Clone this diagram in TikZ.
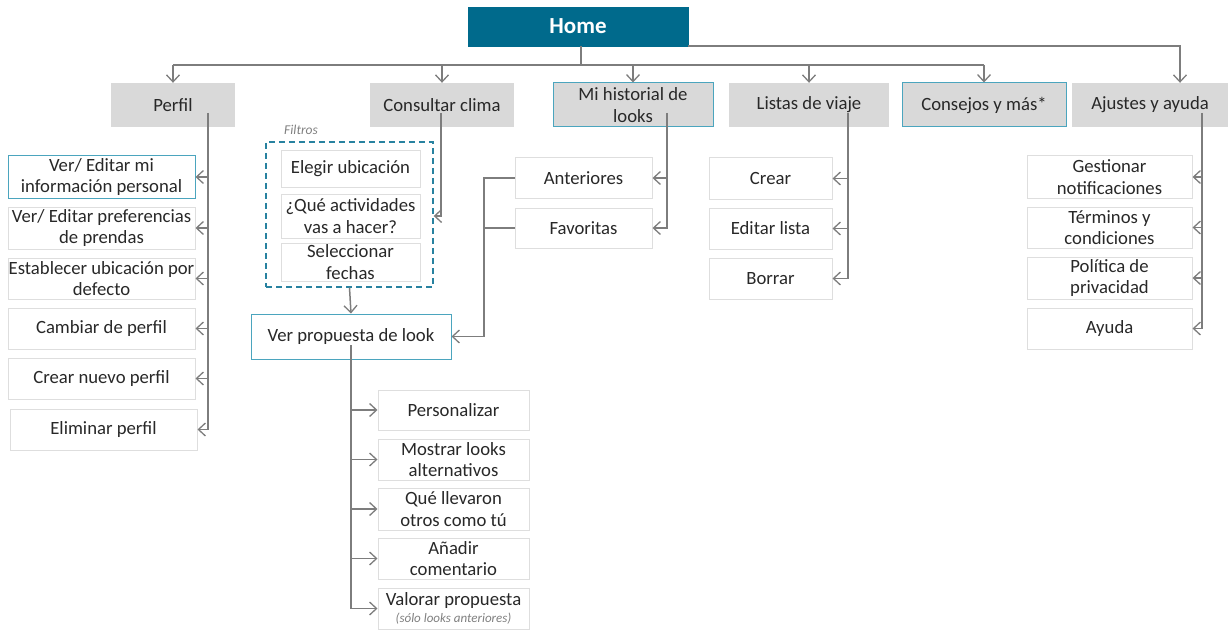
\documentclass[tikz,border=0pt]{standalone}
\usepackage{fontspec}
\setmainfont{Carlito}
\usetikzlibrary{arrows.meta}
\definecolor{teal1}{RGB}{0,106,140}
\definecolor{tealedge}{RGB}{75,165,190}
\definecolor{tealdash}{RGB}{40,130,160}
\definecolor{boxgray}{RGB}{217,217,217}
\definecolor{edgegray}{RGB}{222,222,222}
\definecolor{linegray}{RGB}{125,125,125}
\definecolor{txt}{RGB}{40,40,40}
\begin{document}
\begin{tikzpicture}[x=1pt,y=-1pt,
  every node/.style={inner sep=0pt,align=center,text=txt,font=\fontsize{18.7}{21.5}\selectfont},
  homebox/.style={fill=teal1,draw=teal1,text=white,font=\fontsize{23}{26}\selectfont\bfseries},
  topbox/.style={fill=boxgray,draw=none},
  topboxhl/.style={fill=boxgray,draw=tealedge,line width=1pt},
  leaf/.style={fill=white,draw=edgegray,line width=1pt},
  leafhl/.style={fill=white,draw=tealedge,line width=1pt},
  filtbox/.style={draw=tealdash,dashed,line width=1.4pt,dash pattern=on 6pt off 4pt},
  note/.style={text=gray,font=\fontsize{13.5}{15}\selectfont\itshape},
  conn/.style={draw=linegray,line width=1.5pt},
  arr/.style={conn,-{Straight Barb[length=7pt,width=13pt,line width=1.3pt]}}]
\useasboundingbox (0,0) rectangle (1230,631);

% root
\node[homebox,minimum width=220,minimum height=39] (home) at (578,26.5) {Home};

% first level
\node[topbox,minimum width=124,minimum height=44] (perfil) at (173,105) {Perfil};
\node[topbox,minimum width=144,minimum height=44] (clima) at (442,105) {Consultar clima};
\node[topboxhl,minimum width=160,minimum height=44] (hist) at (633,105) {Mi historial de\\looks};
\node[topbox,minimum width=160,minimum height=44] (listas) at (809,105) {Listas de viaje};
\node[topboxhl,minimum width=164,minimum height=44] (consejos) at (984,105) {Consejos y más*};
\node[topbox,minimum width=156,minimum height=44] (ajustes) at (1150,105) {Ajustes y ayuda};

% bus lines from the root
\coordinate (bus) at (581,65);
\coordinate (topbus) at (1180,46);
\draw[conn] (home.south -| bus) -- (bus);
\draw[conn] (bus -| perfil) -- (bus -| consejos);
\draw[arr] (bus -| perfil) -- (perfil.north);
\draw[arr] (bus -| clima) -- (clima.north);
\draw[arr] (bus -| hist) -- (hist.north);
\draw[arr] (bus -| listas) -- (listas.north);
\draw[arr] (bus -| consejos) -- (consejos.north);
\draw[arr] (home.south east) -| (ajustes.north -| topbus);

% Perfil
\node[leafhl,minimum width=187,minimum height=42] (p1) at (101.5,177) {Ver/ Editar mi\\información personal};
\node[leaf,minimum width=187,minimum height=42] (p2) at (101.5,228) {Ver/ Editar preferencias\\de prendas};
\node[leaf,minimum width=187,minimum height=41] (p3) at (101.5,278.5) {Establecer ubicación por\\defecto};
\node[leaf,minimum width=187,minimum height=41] (p4) at (101.5,328.5) {Cambiar de perfil};
\node[leaf,minimum width=187,minimum height=41] (p5) at (101.5,378.5) {Crear nuevo perfil};
\node[leaf,minimum width=187,minimum height=41] (p6) at (103.5,429.5) {Eliminar perfil};
\coordinate (pv) at (208,113);
\draw[conn] (pv) -- (pv |- p6.east);
\foreach \n in {p1,p2,p3,p4,p5,p6} \draw[arr] (pv |- \n.east) -- (\n.east);

% Consultar clima and its filters
\node[note,anchor=west] (filtlbl) at (284,130) {Filtros};
\node[filtbox,minimum width=167,minimum height=145] (filt) at (349.5,214.5) {};
\node[leaf,minimum width=139,minimum height=36] (q1) at (350.5,169) {Elegir ubicación};
\node[leaf,minimum width=139,minimum height=44] (q2) at (350.5,216) {¿Qué actividades\\vas a hacer?};
\node[leaf,minimum width=139,minimum height=38] (q3) at (350.5,262) {Seleccionar\\fechas};
\coordinate (cv) at (441,113);
\draw[arr] (cv) |- (filt.east |- q2.east);

\node[leafhl,minimum width=200,minimum height=45] (vp) at (351,336.5) {Ver propuesta de look};
\draw[arr] (filt.south) -- (vp.north);

% Mi historial de looks
\node[leaf,minimum width=137,minimum height=40] (ant) at (583.5,178) {Anteriores};
\node[leaf,minimum width=137,minimum height=40] (fav) at (583.5,228) {Favoritas};
\coordinate (hv) at (667,113);
\draw[arr] (hv) |- (fav.east);
\draw[arr] (hv |- ant.east) -- (ant.east);
\coordinate (lk) at (484,0);
\draw[conn] (fav.west) -- (fav.west -| lk);
\draw[arr] (ant.west) -| (lk |- vp.east) -- (vp.east);

% Ver propuesta de look
\node[leaf,minimum width=151,minimum height=40] (v1) at (453.5,410) {Personalizar};
\node[leaf,minimum width=151,minimum height=41] (v2) at (453.5,459.5) {Mostrar looks\\alternativos};
\node[leaf,minimum width=151,minimum height=42] (v3) at (453.5,509) {Qué llevaron\\otros como tú};
\node[leaf,minimum width=151,minimum height=41] (v4) at (453.5,558.5) {Añadir\\comentario};
\node[leaf,minimum width=151,minimum height=41] (v5) at (453.5,608.5) {Valorar propuesta\\[-4pt]{\color{gray}\fontsize{13}{14}\selectfont\itshape (sólo looks anteriores)}};
\coordinate (vv) at (351,345);
\draw[conn] (vv) -- (vv |- v5.west);
\foreach \n in {v1,v2,v3,v4,v5} \draw[arr] (vv |- \n.west) -- (\n.west);

% Listas de viaje
\node[leaf,minimum width=123,minimum height=41] (l1) at (770.5,178.5) {Crear};
\node[leaf,minimum width=123,minimum height=41] (l2) at (770.5,228.5) {Editar lista};
\node[leaf,minimum width=123,minimum height=41] (l3) at (770.5,278.5) {Borrar};
\coordinate (lv) at (848,113);
\draw[conn] (lv) -- (lv |- l3.east);
\foreach \n in {l1,l2,l3} \draw[arr] (lv |- \n.east) -- (\n.east);

% Ajustes y ayuda
\node[leaf,minimum width=165,minimum height=42] (a1) at (1109.5,177) {Gestionar\\notificaciones};
\node[leaf,minimum width=165,minimum height=41] (a2) at (1109.5,227.5) {Términos y\\condiciones};
\node[leaf,minimum width=165,minimum height=42] (a3) at (1109.5,278) {Política de\\privacidad};
\node[leaf,minimum width=165,minimum height=41] (a4) at (1109.5,328.5) {Ayuda};
\coordinate (av) at (1202,113);
\draw[conn] (av) -- (av |- a4.east);
\foreach \n in {a1,a2,a3,a4} \draw[arr] (av |- \n.east) -- (\n.east);
\end{tikzpicture}
\end{document}
